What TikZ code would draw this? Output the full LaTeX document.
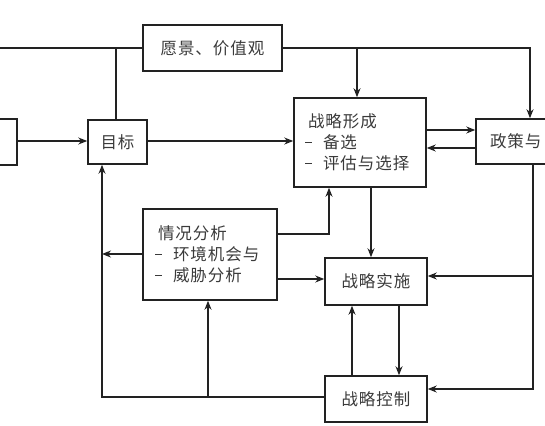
\documentclass[tikz,border=0pt]{standalone}
\usepackage{fontspec}
\setmainfont{Noto Sans CJK SC}[LetterSpace=6]
\usetikzlibrary{arrows.meta}
\definecolor{ink}{HTML}{222222}
\definecolor{txt}{HTML}{3A3A3A}
\newcommand\dashitem{\makebox[15pt][l]{\hspace{-3pt}\rule[5.5pt]{7pt}{0.9pt}}}
\tikzset{
  box/.style={draw=ink, line width=1.5pt, rectangle, inner sep=0pt, text=txt,
    font=\fontsize{16.5}{21}\selectfont},
  lbox/.style={box, align=left, inner xsep=#1},
  conn/.style={draw=ink, line width=1.4pt},
  arr/.style={conn, -{Stealth[length=9pt,width=7pt]}}
}
\begin{document}
\begin{tikzpicture}[x=1pt,y=-1pt]
\useasboundingbox (0,0) rectangle (545,425);
\clip (0,0) rectangle (545,425);
% boxes
\node[box, minimum width=139pt, minimum height=46pt] (vis) at (212.5,48) {愿景、价值观};
\node[box, minimum width=59pt, minimum height=44pt] (goal) at (117.5,142) {目标};
\node[box, minimum width=47pt, minimum height=46pt] (left) at (-6.5,142) {};
\node[lbox=14pt, text width=104pt, minimum height=89pt] (form) at (360,142.5)
  {战略形成\\\dashitem 备选\\\dashitem 评估与选择};
\node[lbox=14pt, text width=86pt, minimum height=45pt] (pol) at (533,141.5) {政策与};
\node[lbox=15pt, text width=104pt, minimum height=91pt] (sit) at (210,254.5)
  {情况分析\\\dashitem 环境机会与\\\dashitem 威胁分析};
\node[box, minimum width=102pt, minimum height=47pt] (impl) at (376,281.5) {战略实施};
\node[box, minimum width=102pt, minimum height=46pt] (ctrl) at (376,399) {战略控制};
% coordinates
\coordinate (vl) at (0,48);
\coordinate (vr) at (530,48);
\coordinate (pb) at (533,389);
\coordinate (sl) at (102,254);
\coordinate (bl) at (102,397);
\coordinate (bm) at (208,397);
\coordinate (sc) at (329,234);
% connectors
\draw[arr] (left.east |- 0,141) -- (goal.west |- 0,141);
\draw[arr] (goal.east |- 0,141) -- (form.west |- 0,141);
\draw[conn] (vl) -- (vis.west);
\draw[conn] (116,48) -- (goal.north -| 116,0);
\draw[arr] (vis.east) -- (vr) -- (pol.north -| vr);
\draw[arr] (357,48) -- (form.north -| 357,0);
\draw[arr] (form.east |- 0,130) -- (pol.west |- 0,130);
\draw[arr] (pol.west |- 0,148) -- (form.east |- 0,148);
\draw[arr] (pol.south -| pb) -- (pb) -- (ctrl.east |- pb);
\draw[arr] (533,276) -- (impl.east |- 0,276);
\draw[arr] (form.south -| 371,0) -- (impl.north -| 371,0);
\draw[arr] (impl.south -| 399,0) -- (ctrl.north -| 399,0);
\draw[arr] (ctrl.north -| 352,0) -- (impl.south -| 352,0);
\draw[arr] (sit.east |- sc) -- (sc) -- (form.south -| sc);
\draw[arr] (sit.east |- 0,279) -- (impl.west |- 0,279);
\draw[arr] (sit.west |- sl) -- (sl);
\draw[arr] (ctrl.west |- bl) -- (bl) -- (goal.south -| bl);
\draw[arr] (bm) -- (sit.south -| bm);
\end{tikzpicture}
\end{document}
